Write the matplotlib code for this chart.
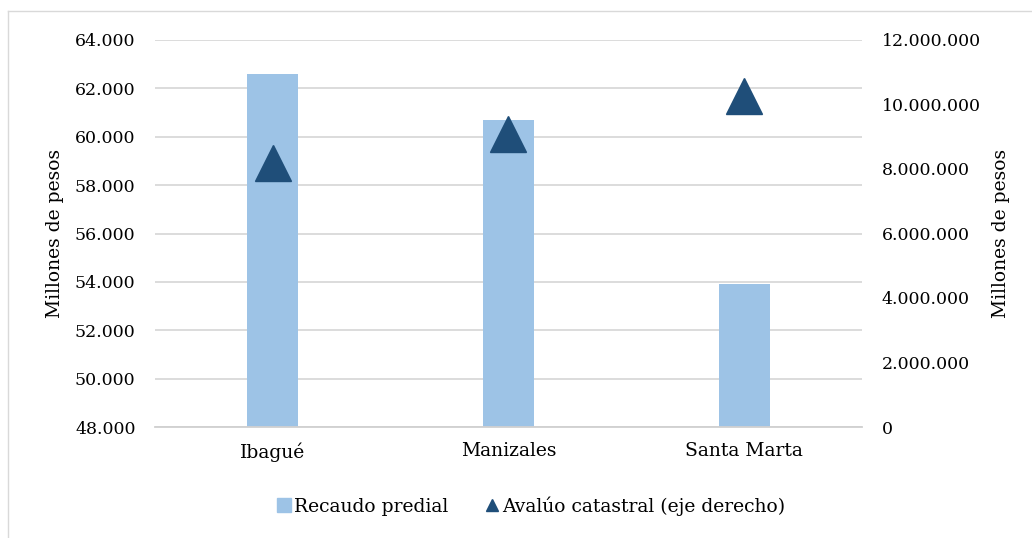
import matplotlib.pyplot as plt
from matplotlib.lines import Line2D
from matplotlib.ticker import FuncFormatter

ciudades = ['Ibagué', 'Manizales', 'Santa Marta']
recaudo = [62600, 60700, 53900]
avaluo = [8200000, 9070000, 10260000]

plt.rcParams['font.family'] = ['DejaVu Serif']
fs = 12.5
fs_txt = 13.5


def miles(v, pos):
    return f'{v:,.0f}'.replace(',', '.')


fig = plt.figure(figsize=(10.32, 5.38), dpi=100)
ax = fig.add_axes([155 / 1032, 1 - 427 / 538, 707 / 1032, 387 / 538])
ax2 = ax.twinx()

x = range(len(ciudades))
ax.bar(x, recaudo, width=0.216, color='#9DC3E6', zorder=2, label='Recaudo predial')
ax.set_ylim(48000, 64000)
ax.set_xlim(-0.5, 2.5)
ax.set_yticks(range(48000, 64001, 2000))
ax.yaxis.set_major_formatter(FuncFormatter(miles))
ax.grid(axis='y', color='#D9D9D9', lw=1.3, zorder=0)
ax.set_axisbelow(True)
ax.set_xticks(list(x))
ax.set_xticklabels(ciudades, fontsize=fs_txt)
ax.tick_params(axis='both', length=0, colors='#000000')
ax.tick_params(axis='y', pad=14, labelsize=fs)
ax.tick_params(axis='x', pad=11)
for s in ['top', 'left', 'right']:
    ax.spines[s].set_visible(False)
ax.spines['bottom'].set_color('#D0D0D0')
ax.spines['bottom'].set_linewidth(1.3)
ax.set_ylabel('Millones de pesos', fontsize=fs_txt, labelpad=8)

ax2.plot(x, avaluo, linestyle='none', marker='^', markersize=26, color='#1F4E79',
         label='Avalúo catastral (eje derecho)')
ax2.set_ylim(0, 12000000)
ax2.set_yticks(range(0, 12000001, 2000000))
ax2.yaxis.set_major_formatter(FuncFormatter(miles))
ax2.tick_params(axis='y', length=0, labelsize=fs, pad=14)
for s in ax2.spines.values():
    s.set_visible(False)
ax2.set_ylabel('Millones de pesos', fontsize=fs_txt, labelpad=8)

handles = [
    plt.Rectangle((0, 0), 1, 1, color='#9DC3E6'),
    Line2D([], [], linestyle='none', marker='^', markersize=8, color='#1F4E79'),
]
fig.legend(handles, ['Recaudo predial', 'Avalúo catastral (eje derecho)'],
           loc='center', bbox_to_anchor=(531 / 1032, 1 - 506 / 538), ncol=2,
           frameon=False, fontsize=fs_txt, handlelength=0.75, handleheight=0.75,
           handletextpad=0.15, columnspacing=2.0)

# marco exterior
fig.add_artist(Line2D([8 / 1032, 1], [1 - 11 / 538, 1 - 11 / 538], color='#D9D9D9', lw=1))
fig.add_artist(Line2D([8 / 1032, 8 / 1032], [0, 1 - 11 / 538], color='#D9D9D9', lw=1))

fig.savefig('out.png', dpi=100)
